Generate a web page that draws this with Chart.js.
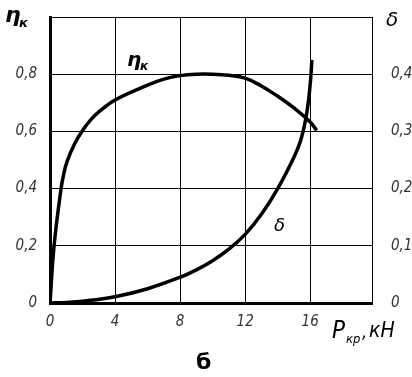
<!DOCTYPE html>
<html>
<head>
<meta charset="utf-8">
<script src="https://cdn.jsdelivr.net/npm/chart.js@4/dist/chart.umd.min.js"></script>
<style>
  html, body { margin: 0; padding: 0; background: #fff; }
  canvas { display: block; }
</style>
</head>
<body>
<canvas id="grafico" width="412" height="377"></canvas>
<script>
// данные (Pкр, кН)
const etaP = [0, 0.25, 0.68, 0.84, 1.05, 1.5, 2, 2.5, 3, 4, 6, 7, 8, 9, 10, 11, 12, 13, 14, 15, 16, 16.4];
const etaV = [0, 0.2, 0.4, 0.45, 0.495, 0.555, 0.603, 0.64, 0.668, 0.71, 0.762, 0.783, 0.795, 0.8, 0.8, 0.796, 0.786, 0.759, 0.723, 0.682, 0.633, 0.603];

const deltaP = [0, 1, 2, 4, 6, 8, 9, 10, 11, 12, 13, 14, 15, 15.4, 15.7, 15.9, 16.05, 16.1];
const deltaV = [0, 0.001, 0.003, 0.011, 0.025, 0.045, 0.058, 0.074, 0.094, 0.12, 0.155, 0.2, 0.255, 0.283, 0.318, 0.355, 0.4, 0.425];

const ticksP = [0, 4, 8, 12, 16];
const ticksEta = [0, 0.2, 0.4, 0.6, 0.8, 1.0];
const ticksDelta = [0, 0.1, 0.2, 0.3, 0.4];

const fonteEixo = { family: "'Liberation Sans Narrow', 'DejaVu Sans Condensed', sans-serif", size: 15, style: 'italic' };

function virgula(v) {
  if (v === 0) return '0';
  return v.toFixed(1).replace('.', ',');
}

function pontos(xs, ys) {
  return xs.map((x, i) => ({ x: x, y: ys[i] }));
}

function semFolga(s) {
  s.paddingTop = 0;
  s.paddingBottom = 0;
}

// textos sobre o gráfico (rótulos, títulos dos eixos)
const textos = {
  id: 'textos',
  afterDraw(chart) {
    const ctx = chart.ctx;
    ctx.save();
    ctx.fillStyle = '#000';
    ctx.textBaseline = 'alphabetic';
    ctx.textAlign = 'left';
    // ηк no canto
    ctx.font = "bold italic 22px 'DejaVu Sans', sans-serif";
    ctx.fillText('η', 5, 22);
    ctx.font = "bold italic 13px 'DejaVu Sans', sans-serif";
    ctx.fillText('к', 19, 27);
    // δ à direita
    ctx.font = "italic 20px 'DejaVu Sans', sans-serif";
    ctx.fillText('δ', 386, 26);
    // ηк sobre a curva
    ctx.font = "bold italic 20px 'DejaVu Sans', sans-serif";
    ctx.fillText('η', 127, 66);
    ctx.font = "bold italic 12px 'DejaVu Sans', sans-serif";
    ctx.fillText('к', 140, 70);
    // δ sobre a curva
    ctx.font = "italic 18px 'DejaVu Sans', sans-serif";
    ctx.fillText('δ', 274, 231);
    // Pкр, кН
    ctx.font = "italic 24px 'Liberation Sans Narrow', 'DejaVu Sans Condensed', sans-serif";
    ctx.fillText('P', 332, 338);
    ctx.font = "italic 13px 'Liberation Sans Narrow', 'DejaVu Sans Condensed', sans-serif";
    ctx.fillText('кр', 346, 343);
    ctx.font = "italic 18px 'Liberation Sans Narrow', 'DejaVu Sans Condensed', sans-serif";
    ctx.fillText(',', 362, 338);
    ctx.font = "italic 21px 'Liberation Sans Narrow', 'DejaVu Sans Condensed', sans-serif";
    ctx.fillText('кН', 369, 337);
    // б
    ctx.font = "bold 22px 'DejaVu Sans', sans-serif";
    ctx.fillText('б', 196, 369);
    ctx.restore();
  }
};

const grafico = new Chart(document.getElementById('grafico'), {
  type: 'line',
  data: {
    datasets: [{
      label: 'ηк',
      data: pontos(etaP, etaV),
      yAxisID: 'y',
      borderColor: '#000',
      borderWidth: 3.5,
      pointRadius: 0,
      tension: 0.4,
      fill: false
    }, {
      label: 'δ',
      data: pontos(deltaP, deltaV),
      yAxisID: 'y2',
      borderColor: '#000',
      borderWidth: 3.5,
      pointRadius: 0,
      tension: 0.4,
      fill: false
    }]
  },
  options: {
    responsive: false,
    devicePixelRatio: 1,
    animation: false,
    layout: { padding: { top: 17, left: 0, right: 0, bottom: 0 } },
    plugins: { legend: { display: false }, tooltip: { enabled: false } },
    scales: {
      x: {
        type: 'linear',
        min: 0,
        max: 19.8,
        afterBuildTicks: s => { s.ticks = ticksP.map(v => ({ value: v })); },
        afterFit: s => { s.height = 74; s.paddingLeft = 0; s.paddingRight = 0; },
        grid: { color: '#000', lineWidth: 1, drawTicks: false },
        border: { color: '#000', width: 3 },
        ticks: { color: '#333', font: fonteEixo, padding: 10 }
      },
      y: {
        position: 'left',
        min: 0,
        max: 1,
        afterBuildTicks: s => { s.ticks = ticksEta.map(v => ({ value: v })); },
        afterFit: s => { s.width = 50; semFolga(s); },
        grid: { color: '#000', lineWidth: 1, drawTicks: false },
        border: { color: '#000', width: 3 },
        ticks: { color: '#333', font: fonteEixo, padding: 13, callback: v => v >= 1 ? '' : virgula(v) }
      },
      y2: {
        position: 'right',
        min: 0,
        max: 0.5,
        afterBuildTicks: s => { s.ticks = ticksDelta.map(v => ({ value: v })); },
        afterFit: s => { s.width = 40; semFolga(s); },
        grid: { display: false },
        border: { color: '#000', width: 1 },
        ticks: { color: '#333', font: fonteEixo, padding: 11, callback: v => virgula(v) }
      }
    }
  },
  plugins: [textos]
});
</script>
</body>
</html>
